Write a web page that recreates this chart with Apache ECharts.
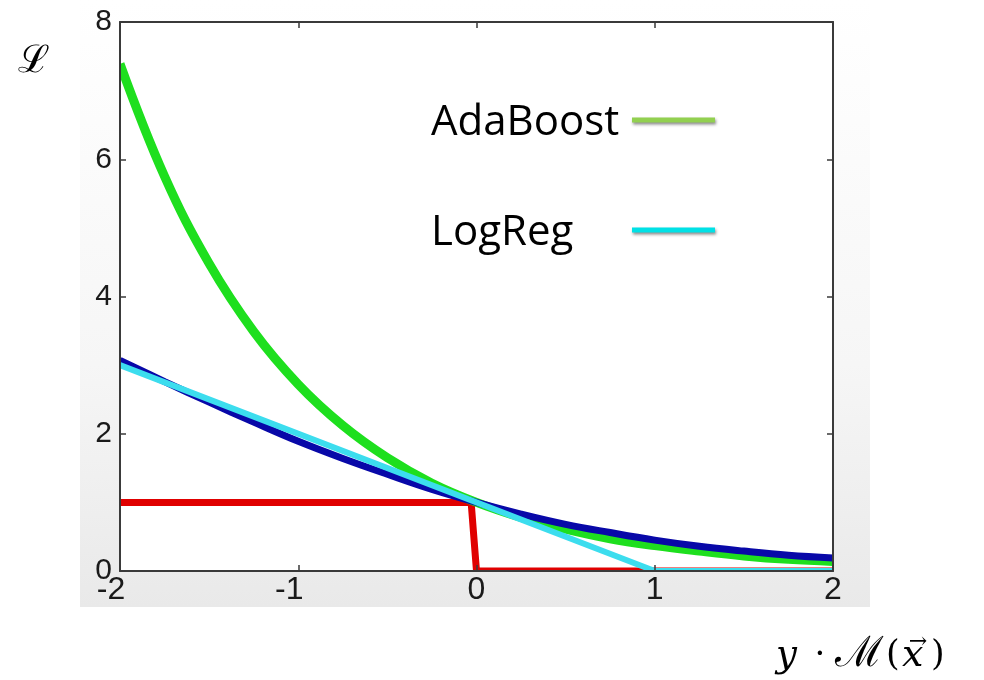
<!DOCTYPE html>
<html><head><meta charset="utf-8">
<script src="https://cdn.jsdelivr.net/npm/echarts@6/dist/echarts.min.js"></script>
<style>html,body{margin:0;padding:0;background:#fff}#c{width:984px;height:680px}</style>
</head><body><div id="c"></div>
<script>
// Values
const xTicks = [-2, -1, 0, 1, 2];
const yTicks = [0, 2, 4, 6, 8];
const adaBoostX = [-2, -1.75, -1.5, -1.25, -1, -0.75, -0.5, -0.25, 0, 0.25, 0.5, 0.75, 1, 1.25, 1.5, 1.75, 2];
const adaBoostY = [7.39, 5.75, 4.48, 3.49, 2.72, 2.12, 1.65, 1.28, 1.0, 0.78, 0.61, 0.47, 0.37, 0.29, 0.22, 0.17, 0.14];
const logLossX = [-2, -1.75, -1.5, -1.25, -1, -0.75, -0.5, -0.25, 0, 0.25, 0.5, 0.75, 1, 1.25, 1.5, 1.75, 2];
const logLossY = [3.07, 2.76, 2.46, 2.17, 1.89, 1.64, 1.41, 1.19, 1.0, 0.83, 0.68, 0.56, 0.45, 0.36, 0.29, 0.23, 0.19];
const hingeX = [-2, 1, 2];
const hingeY = [3.0, 0, 0];
const zeroOneX = [-2, -0.03, 0, 2];
const zeroOneY = [1, 1, 0, 0];
const legendNames = ['AdaBoost', 'LogReg'];

const zip = (xs, ys) => xs.map((x, i) => [x, ys[i]]);

const chart = echarts.init(document.getElementById('c'));
const axisLine = { show: true, onZero: false, lineStyle: { color: '#3a3a3a', width: 2 } };
const tick = { show: true, inside: true, length: 6, lineStyle: { color: '#3a3a3a', width: 1.5 } };
const fam = 'Liberation Sans, Arial, sans-serif';
const mathFont = 'DejaVu Serif';
const mathY = 656;
const bgFill = () => ({ type: 'linear', global: true, x: 0, y: 0, x2: 0, y2: 607, colorStops: [
  { offset: 0, color: '#ffffff' }, { offset: 0.6, color: '#f6f6f6' }, { offset: 1, color: '#e9e9e9' }] });

chart.setOption({
  animation: false,
  backgroundColor: '#fff',
  grid: { left: 120, top: 22, right: 151, bottom: 109, show: true, backgroundColor: '#fff', borderWidth: 0 },
  graphic: [
    { type: 'rect', z: -10, silent: true, shape: { x: 80, y: 0, width: 790, height: 607 }, style: { fill: bgFill() } },
    // frame strips outside the plot box (hide line overhang, as the original is clipped)
    { type: 'rect', z: 10, silent: true, shape: { x: 80, y: 572, width: 790, height: 35 }, style: { fill: bgFill() } },
    { type: 'rect', z: 10, silent: true, shape: { x: 834, y: 0, width: 36, height: 607 }, style: { fill: bgFill() } },
    { type: 'rect', z: 10, silent: true, shape: { x: 80, y: 0, width: 39, height: 607 }, style: { fill: bgFill() } },
    { type: 'text', z: 100, style: { text: 'ℒ', x: 18, y: 62, textVerticalAlign: 'middle', fontSize: 38, fontFamily: mathFont, fill: '#000' } },
    { type: 'text', z: 100, style: { text: 'y', x: 776, y: mathY, textVerticalAlign: 'middle', fontSize: 37, fontStyle: 'italic', fontFamily: mathFont, fill: '#000' } },
    { type: 'text', z: 100, style: { text: '·', x: 820, y: mathY, textAlign: 'center', textVerticalAlign: 'middle', fontSize: 34, fontFamily: mathFont, fill: '#000' } },
    { type: 'text', z: 100, style: { text: 'ℳ', x: 835, y: mathY - 1, textVerticalAlign: 'middle', fontSize: 42, fontFamily: mathFont, fill: '#000' } },
    { type: 'text', z: 100, style: { text: '(', x: 886, y: mathY, textVerticalAlign: 'middle', fontSize: 35, fontFamily: mathFont, fill: '#000' } },
    { type: 'text', z: 100, style: { text: 'x', x: 902, y: mathY, textVerticalAlign: 'middle', fontSize: 38, fontStyle: 'italic', fontFamily: mathFont, fill: '#000' } },
    { type: 'text', z: 100, style: { text: '→', x: 918, y: 642, textAlign: 'center', textVerticalAlign: 'middle', fontSize: 22, fontFamily: mathFont, fill: '#000' } },
    { type: 'text', z: 100, style: { text: ')', x: 931, y: mathY, textVerticalAlign: 'middle', fontSize: 35, fontFamily: mathFont, fill: '#000' } },
    { type: 'text', left: 431, top: 102, z: 100, style: { text: legendNames[0], fontSize: 42, fontFamily: 'Open Sans', fill: '#000' } },
    { type: 'text', left: 431, top: 212, z: 100, style: { text: legendNames[1], fontSize: 42, fontFamily: 'Open Sans', fill: '#000' } },
    { type: 'line', z: 100, shape: { x1: 632, y1: 120, x2: 715, y2: 120 },
      style: { stroke: '#92D050', lineWidth: 5, shadowColor: 'rgba(0,0,0,0.45)', shadowBlur: 3, shadowOffsetX: 1, shadowOffsetY: 2 } },
    { type: 'line', z: 100, shape: { x1: 632, y1: 230, x2: 715, y2: 230 },
      style: { stroke: '#00E1E6', lineWidth: 5, shadowColor: 'rgba(0,0,0,0.45)', shadowBlur: 3, shadowOffsetX: 1, shadowOffsetY: 2 } }
  ],
  xAxis: [
    { type: 'value', z: 50, min: -2, max: 2, interval: 1, position: 'bottom', axisLine, axisTick: tick, splitLine: { show: false },
      axisLabel: { color: '#1a1a1a', fontSize: 32, fontFamily: fam, margin: 3,
        formatter: v => xTicks.includes(v) ? (v < 0 ? '{n|' + v + '}' : '{p|' + v + '}') : '',
        rich: { n: { fontSize: 32, fontFamily: fam, color: '#1a1a1a', padding: [0, 18, 0, 0] },
                p: { fontSize: 32, fontFamily: fam, color: '#1a1a1a' } } } },
    { type: 'value', z: 50, min: -2, max: 2, interval: 1, position: 'top', axisLine, axisTick: tick,
      splitLine: { show: false }, axisLabel: { show: false } }
  ],
  yAxis: [
    { type: 'value', z: 50, min: 0, max: 8, interval: 2, position: 'left', axisLine, axisTick: tick, splitLine: { show: false },
      axisLabel: { color: '#1a1a1a', fontSize: 30, fontFamily: fam, margin: 8, formatter: v => yTicks.includes(v) ? String(v) : '' } },
    { type: 'value', z: 50, min: 0, max: 8, interval: 2, position: 'right', axisLine, axisTick: tick,
      splitLine: { show: false }, axisLabel: { show: false } }
  ],
  series: [
    { name: '0-1', type: 'line', data: zip(zeroOneX, zeroOneY), showSymbol: false, z: 2,
      lineStyle: { color: '#E00000', width: 7, join: 'miter' } },
    { name: 'AdaBoost', type: 'line', data: zip(adaBoostX, adaBoostY), smooth: 0.4, showSymbol: false, z: 3,
      lineStyle: { color: '#1EDF1E', width: 9 } },
    { name: 'LogLoss', type: 'line', data: zip(logLossX, logLossY), smooth: 0.4, showSymbol: false, z: 4,
      lineStyle: { color: '#0808A8', width: 7 } },
    { name: 'LogReg', type: 'line', data: zip(hingeX, hingeY), showSymbol: false, z: 5,
      lineStyle: { color: '#3CDDEE', width: 6 } }
  ]
});
</script></body></html>
